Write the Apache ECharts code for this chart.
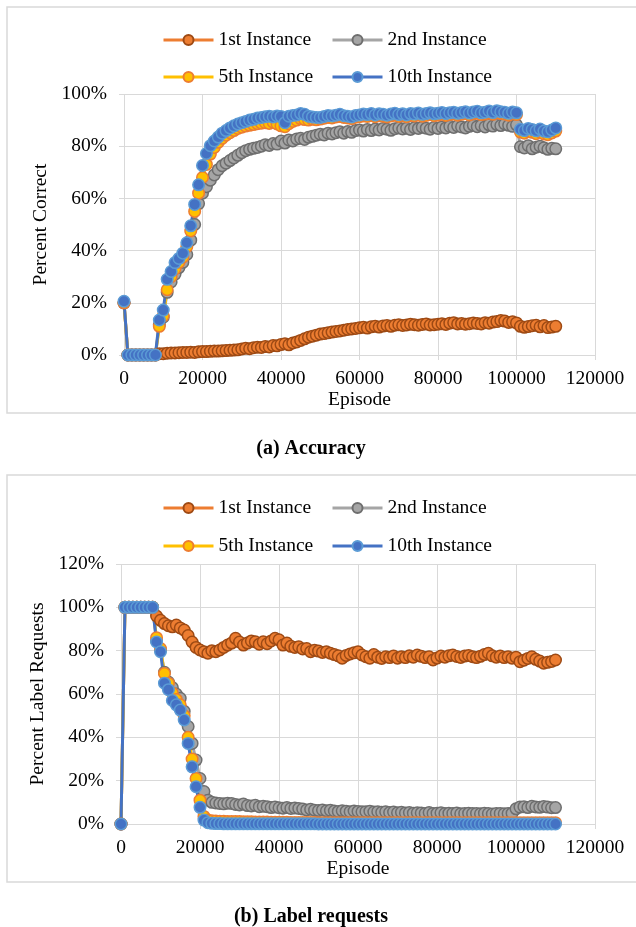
<!DOCTYPE html>
<html>
<head>
<meta charset="utf-8">
<script src="https://cdn.jsdelivr.net/npm/echarts@6/dist/echarts.min.js"></script>
<style>
  html, body { margin: 0; padding: 0; background: #ffffff; }
  #chart { width: 636px; height: 927px; }
</style>
</head>
<body>
<div id="chart"></div>
<script>
// Episode index shared by every series (one sample per 1000 episodes)
const episodes = [
  0, 1000, 2000, 3000, 4000, 5000, 6000, 7000, 8000, 9000,
  10000, 11000, 12000, 13000, 14000, 15000, 16000, 17000, 18000, 19000,
  20000, 21000, 22000, 23000, 24000, 25000, 26000, 27000, 28000, 29000,
  30000, 31000, 32000, 33000, 34000, 35000, 36000, 37000, 38000, 39000,
  40000, 41000, 42000, 43000, 44000, 45000, 46000, 47000, 48000, 49000,
  50000, 51000, 52000, 53000, 54000, 55000, 56000, 57000, 58000, 59000,
  60000, 61000, 62000, 63000, 64000, 65000, 66000, 67000, 68000, 69000,
  70000, 71000, 72000, 73000, 74000, 75000, 76000, 77000, 78000, 79000,
  80000, 81000, 82000, 83000, 84000, 85000, 86000, 87000, 88000, 89000,
  90000, 91000, 92000, 93000, 94000, 95000, 96000, 97000, 98000, 99000,
  100000, 101000, 102000, 103000, 104000, 105000, 106000, 107000, 108000, 109000, 110000
];

const seriesNames = ['1st Instance', '2nd Instance', '5th Instance', '10th Instance'];

// (a) Accuracy, percent correct
const accuracy1st = [
  20, 0, 0, 0, 0, 0, 0, 0, 0, 0.5,
  0.5, 0.7, 0.8, 0.8, 0.9, 1.0, 1.0, 1.1, 1.0, 1.2,
  1.3, 1.3, 1.4, 1.5, 1.5, 1.6, 1.7, 1.8, 1.9, 2.0,
  2.3, 2.6, 2.4, 2.8, 3.0, 2.9, 3.3, 3.1, 3.6, 3.5,
  4.0, 4.3, 3.9, 4.6, 5.0, 5.6, 6.2, 6.8, 7.2, 7.6,
  8.0, 8.2, 8.5, 8.8, 9.0, 9.2, 9.5, 9.8, 10.0, 10.2,
  10.4, 10.6, 10.3, 10.8, 11.0, 10.7, 11.1, 11.3, 11.0, 11.4,
  11.6, 11.3, 11.5, 11.8, 11.6, 11.4, 11.7, 11.9, 11.5, 11.6,
  11.8, 12.0, 11.7, 12.2, 12.4, 11.9, 12.1, 11.8, 12.0, 12.3,
  12.1, 11.9, 12.4, 12.2, 12.6, 12.8, 13.2, 13.0, 12.5, 12.7,
  12.3, 11.0, 10.6, 10.9, 11.2, 11.4, 10.8, 11.3, 10.5, 10.7, 11.0
];
const accuracy2nd = [
  20, 0, 0, 0, 0, 0, 0, 0, 0, 11.5,
  14.5, 24, 28, 31, 33.5, 35.5, 38.5, 44, 50, 58,
  62, 64.5, 67, 69, 71, 72.5, 73.5, 74.5, 75.5, 76.5,
  77.5, 78.3, 78.8, 79.2, 79.5, 80.0, 80.6, 80.3, 81.0, 80.8,
  82.0, 81.2, 82.4, 82.0, 82.8, 83.0, 82.6, 83.4, 83.8, 84.2,
  84.6, 84.3, 85.0, 84.7, 85.2, 85.5, 85.0, 85.6, 85.3, 86.0,
  86.2, 85.8, 86.4, 86.0, 86.6, 86.2, 86.8, 86.5, 86.1, 86.7,
  87.0, 86.6, 86.9, 86.4, 87.1, 86.8, 87.3, 86.9, 86.5, 87.2,
  86.8, 87.4, 87.0, 87.6, 87.2, 87.8, 87.4, 87.0, 87.6, 88.0,
  87.5, 87.9, 87.4, 88.2, 87.7, 88.3, 87.9, 88.5, 88.0, 87.6,
  88.2, 79.8, 79.3, 80.2, 79.0, 79.6, 80.0, 79.4, 78.8, 79.2, 79.0
];
const accuracy5th = [
  20, 0, 0, 0, 0, 0, 0, 0, 0, 11,
  15, 25, 30, 33, 35.5, 37.5, 41.5, 47.5, 55, 62,
  68, 73, 77, 79.5, 81.5, 83, 84.2, 85.2, 86, 86.8,
  87.3, 87.7, 88, 88.3, 88.6, 88.8, 89.0, 88.7, 89.2, 88.5,
  87.8, 87.5, 88.6, 89.5, 90.0, 90.5, 90.2, 90.0, 90.3, 90.1,
  90.4, 90.7, 91.0, 90.8, 91.2, 91.4, 91.0, 90.8, 90.6, 91.1,
  91.3, 91.6, 91.4, 91.8, 91.3, 91.7, 91.5, 91.2, 91.6, 91.9,
  91.4, 91.7, 91.3, 91.8, 91.6, 92.0, 91.5, 91.8, 92.1, 91.7,
  91.9, 92.2, 91.8, 92.1, 92.3, 91.9, 92.2, 92.5, 92.0, 92.4,
  92.7, 92.1, 92.3, 92.8, 92.2, 92.9, 92.5, 92.3, 91.9, 92.4,
  92.1, 85.4, 85.0, 85.7, 85.3, 84.8, 85.5, 84.7, 84.4, 85.1, 85.8
];
const accuracy10th = [
  20.6, 0, 0, 0, 0, 0, 0, 0, 0, 13.4,
  17.2, 29, 32, 35.4, 37, 39, 43, 49.5, 57.7, 65.2,
  72.6, 77.2, 80.2, 82, 83.5, 85, 86, 87, 87.8, 88.5,
  89, 89.5, 90, 90.3, 90.8, 91, 91.3, 91.5, 91.2, 91.6,
  91.4, 89, 91.5, 91.8, 92, 92.5, 92.2, 91.5, 91.2, 91.0,
  91.0, 91.4, 91.8, 91.6, 91.9, 92.2, 91.7, 91.5, 91.2, 91.8,
  92.0, 92.3, 92.1, 92.5, 92.0, 92.4, 92.2, 91.9, 92.3, 92.6,
  92.1, 92.4, 92.0, 92.5, 92.3, 92.7, 92.2, 92.5, 92.8, 92.4,
  92.6, 92.9, 92.5, 92.8, 93.0, 92.6, 92.9, 93.2, 92.7, 93.1,
  93.4, 92.8, 93.0, 93.5, 92.9, 93.6, 93.2, 93.0, 92.6, 93.1,
  92.8, 86.5, 86.0, 86.8, 86.4, 85.9, 86.6, 85.8, 85.5, 86.2, 87.0
];

// (b) Label requests, percent of episodes asking for a label
const requests1st = [
  0, 100, 100, 100, 100, 100, 100, 100, 100, 96,
  94, 92.5, 91.5, 91, 91.8, 90.5, 89.5, 87, 84, 81.5,
  80.3, 79.5, 78.8, 80, 79.5, 80.3, 81.5, 82.6, 83.5, 85.7,
  84, 82.6, 83.5, 84.5, 84.1, 83, 84.1, 83.2, 84.5, 85.7,
  85, 82.6, 83.5, 82, 81.5, 81.8, 80.8, 81, 79.5, 80.2,
  79.8, 79.2, 79.5, 78.8, 78.2, 77.6, 76.5, 77.8, 78.5, 79,
  79.5, 78, 77.2, 76.5, 78.2, 77, 76.4, 77.2, 76.8, 77.5,
  76.5, 77.2, 76.8, 77.6, 77.0, 78, 77.4, 76.8, 77.2, 75.7,
  76.6, 77.5, 77.0, 77.6, 78, 77.3, 76.9, 77.5, 77.8, 77.2,
  76.8, 77.4, 78.2, 78.8, 77.6, 77.0, 77.5, 76.8, 77.2, 76.5,
  77.0, 74.9, 75.6, 76.4, 77.2, 76.0, 75.2, 74.2, 74.6, 75.0, 75.7
];
const requests2nd = [
  0, 100, 100, 100, 100, 100, 100, 100, 100, 84.5,
  80.5, 70, 65.5, 63, 60, 58, 52, 45, 37.2, 29.5,
  21, 15, 11, 10, 9.7, 9.5, 9.3, 9.6, 9.5, 9.0,
  8.8, 9.2, 8.5, 8.3, 8.6, 8.0, 8.2, 8.0, 7.6, 7.9,
  7.5, 7.3, 7.6, 7.2, 7.4, 7.2, 6.9, 6.5, 6.8, 6.4,
  6.2, 6.5, 6.1, 6.3, 6.0, 5.8, 6.1, 5.9, 5.7, 6.0,
  5.8, 5.6, 5.7, 5.9, 5.5, 5.7, 5.4, 5.6, 5.3, 5.5,
  5.2, 5.4, 5.1, 5.3, 5.0, 5.2, 5.1, 4.9, 5.3, 4.9,
  5.0, 5.2, 4.8, 5.0, 4.9, 5.1, 4.7, 4.9, 5.0, 4.8,
  4.9, 4.7, 5.0, 4.8, 4.6, 4.9, 4.9, 4.7, 4.8, 5.0,
  7.0, 7.8, 8.0, 7.6, 8.2, 7.9, 7.7, 8.1, 7.8, 7.5, 7.6
];
const requests5th = [
  0, 100, 100, 100, 100, 100, 100, 100, 100, 86,
  81, 69.5, 65, 60.5, 57.5, 55, 50, 40, 30, 21,
  11, 3.5, 1.8, 1.5, 1.4, 1.3, 1.3, 1.2, 1.2, 1.1,
  1.1, 1.0, 1.0, 1.0, 0.9, 0.9, 0.9, 0.9, 0.8, 0.8,
  0.8, 0.8, 0.8, 0.7, 0.7, 0.7, 0.7, 0.7, 0.7, 0.7,
  0.6, 0.6, 0.6, 0.6, 0.6, 0.6, 0.6, 0.6, 0.6, 0.6,
  0.6, 0.6, 0.6, 0.6, 0.6, 0.6, 0.6, 0.6, 0.6, 0.6,
  0.6, 0.6, 0.6, 0.6, 0.6, 0.6, 0.6, 0.6, 0.6, 0.6,
  0.6, 0.6, 0.6, 0.6, 0.6, 0.6, 0.6, 0.6, 0.6, 0.6,
  0.6, 0.6, 0.6, 0.6, 0.6, 0.6, 0.6, 0.6, 0.6, 0.6,
  0.6, 0.6, 0.6, 0.6, 0.6, 0.6, 0.6, 0.6, 0.6, 0.6, 0.6
];
const requests10th = [
  0, 100, 100, 100, 100, 100, 100, 100, 100, 84,
  79.5, 65, 62, 57, 55, 52.6, 48, 37.2, 26.4, 17.2,
  7.7, 1.8, 0.6, 0.3, 0.2, 0.2, 0.1, 0.1, 0.1, 0.1,
  0.1, 0.1, 0.1, 0.1, 0.1, 0.1, 0.1, 0.1, 0.1, 0.1,
  0.1, 0.1, 0.1, 0.1, 0.1, 0.1, 0.1, 0.1, 0.1, 0.1,
  0, 0, 0, 0, 0, 0, 0, 0, 0, 0,
  0, 0, 0, 0, 0, 0, 0, 0, 0, 0,
  0, 0, 0, 0, 0, 0, 0, 0, 0, 0,
  0, 0, 0, 0, 0, 0, 0, 0, 0, 0,
  0, 0, 0, 0, 0, 0, 0, 0, 0, 0,
  0, 0, 0, 0, 0, 0, 0, 0, 0, 0, 0
];

const xTicks = [0, 20000, 40000, 60000, 80000, 100000, 120000];

const FONT = '"Liberation Serif", "Times New Roman", serif';
const FONT_SIZE = 19.5;
const GRID_GRAY = '#d9d9d9';

// Line colour, marker fill and marker outline for each instance
const palette = [
  { line: '#ed7d31', fill: '#ed7d31', edge: '#9e4a14' },
  { line: '#a5a5a5', fill: '#a5a5a5', edge: '#6e6e6e' },
  { line: '#ffc000', fill: '#ffc000', edge: '#ed7d31' },
  { line: '#4472c4', fill: '#4472c4', edge: '#5b9bd5' }
];

function pairs(values) {
  return episodes.map((x, i) => [x, values[i]]);
}

function makeSeries(values, k, axisIdx) {
  const c = palette[k];
  return {
    name: seriesNames[k],
    type: 'line',
    xAxisIndex: axisIdx,
    yAxisIndex: axisIdx,
    data: pairs(values),
    symbol: 'circle',
    symbolSize: 11.5,
    showAllSymbol: true,
    lineStyle: { color: c.line, width: 3 },
    itemStyle: { color: c.fill, borderColor: c.edge, borderWidth: 1.5 },
    emphasis: { disabled: true },
    animation: false
  };
}

function xAxis(gridIndex) {
  return {
    type: 'value',
    gridIndex: gridIndex,
    min: 0, max: 120000, interval: 20000,
    name: 'Episode',
    nameLocation: 'middle',
    nameGap: 34,
    nameTextStyle: { fontFamily: FONT, fontSize: FONT_SIZE, color: '#000' },
    axisLine: { show: true, lineStyle: { color: GRID_GRAY, width: 1 } },
    axisTick: { show: true, length: 5, lineStyle: { color: GRID_GRAY } },
    axisLabel: {
      fontFamily: FONT, fontSize: FONT_SIZE, color: '#000', margin: 14,
      formatter: v => (xTicks.indexOf(v) >= 0 ? String(v) : '')
    },
    splitLine: { show: true, lineStyle: { color: GRID_GRAY, width: 1 } }
  };
}

function yAxis(gridIndex, max, title) {
  return {
    type: 'value',
    gridIndex: gridIndex,
    min: 0, max: max, interval: 20,
    name: title,
    nameLocation: 'middle',
    nameRotate: 90,
    nameGap: 72,
    nameTextStyle: { fontFamily: FONT, fontSize: FONT_SIZE, color: '#000' },
    axisLine: { show: false },
    axisTick: { show: true, length: 5, lineStyle: { color: GRID_GRAY } },
    axisLabel: {
      fontFamily: FONT, fontSize: FONT_SIZE, color: '#000', margin: 17,
      formatter: v => v + '%'
    },
    splitLine: { show: true, lineStyle: { color: GRID_GRAY, width: 1 } }
  };
}

function legendItem(name, left, centerY) {
  return {
    data: [name],
    left: left,
    top: centerY - 10,
    padding: 0,
    itemWidth: 50,
    itemHeight: 12.5,
    itemGap: 0,
    selectedMode: false,
    lineStyle: { width: 3 },
    textStyle: { fontFamily: FONT, fontSize: FONT_SIZE, color: '#000', lineHeight: 20 }
  };
}

const chart = echarts.init(document.getElementById('chart'), null, { renderer: 'canvas' });

chart.setOption({
  backgroundColor: '#ffffff',
  animation: false,
  grid: [
    { left: 124, top: 94, width: 471, height: 261 },
    { left: 121, top: 564, width: 474, height: 260 }
  ],
  xAxis: [xAxis(0), xAxis(1)],
  yAxis: [yAxis(0, 100, 'Percent Correct'), yAxis(1, 120, 'Percent Label Requests')],
  legend: [
    legendItem(seriesNames[0], 162, 40),
    legendItem(seriesNames[1], 331, 40),
    legendItem(seriesNames[2], 162, 77),
    legendItem(seriesNames[3], 331, 77),
    legendItem(seriesNames[0], 162, 508),
    legendItem(seriesNames[1], 331, 508),
    legendItem(seriesNames[2], 162, 546),
    legendItem(seriesNames[3], 331, 546)
  ],
  graphic: [
    { type: 'rect', silent: true, z: -1,
      shape: { x: 7, y: 7, width: 640, height: 406 },
      style: { fill: 'none', stroke: GRID_GRAY, lineWidth: 1.5 } },
    { type: 'rect', silent: true, z: -1,
      shape: { x: 7, y: 475, width: 640, height: 407 },
      style: { fill: 'none', stroke: GRID_GRAY, lineWidth: 1.5 } },
    { type: 'text', silent: true, x: 311, y: 449,
      style: { text: '(a) Accuracy', fill: '#000', font: 'bold 20px ' + FONT,
               align: 'center', verticalAlign: 'middle' } },
    { type: 'text', silent: true, x: 311, y: 917,
      style: { text: '(b) Label requests', fill: '#000', font: 'bold 20px ' + FONT,
               align: 'center', verticalAlign: 'middle' } }
  ],
  series: [
    makeSeries(accuracy1st, 0, 0),
    makeSeries(accuracy2nd, 1, 0),
    makeSeries(accuracy5th, 2, 0),
    makeSeries(accuracy10th, 3, 0),
    makeSeries(requests1st, 0, 1),
    makeSeries(requests2nd, 1, 1),
    makeSeries(requests5th, 2, 1),
    makeSeries(requests10th, 3, 1)
  ]
});
</script>
</body>
</html>
